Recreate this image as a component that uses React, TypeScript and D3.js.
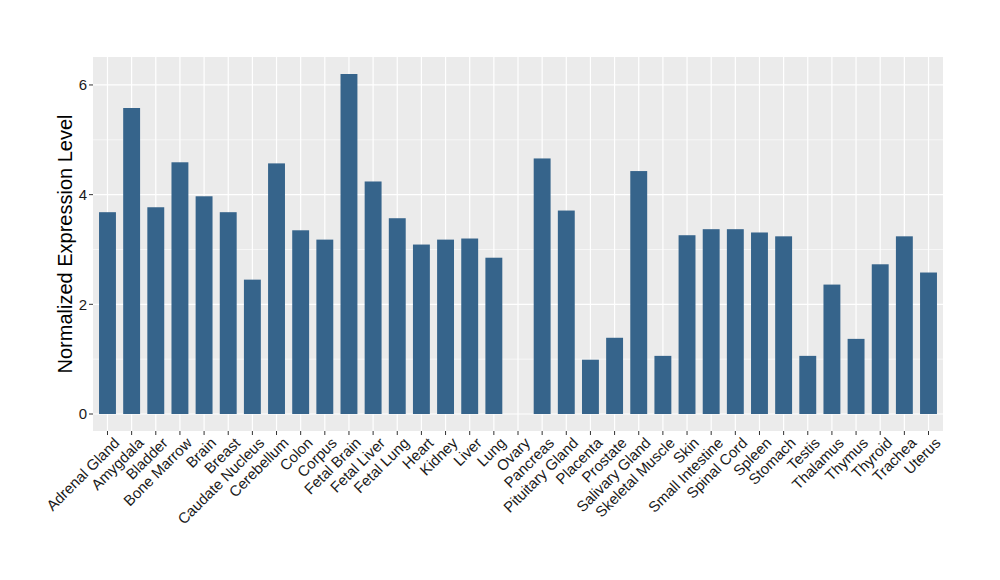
import React from "react";
import * as d3 from "d3";

const categories = [
  "Adrenal Gland", "Amygdala", "Bladder", "Bone Marrow", "Brain", "Breast",
  "Caudate Nucleus", "Cerebellum", "Colon", "Corpus", "Fetal Brain", "Fetal Liver",
  "Fetal Lung", "Heart", "Kidney", "Liver", "Lung", "Ovary", "Pancreas",
  "Pituitary Gland", "Placenta", "Prostate", "Salivary Gland", "Skeletal Muscle",
  "Skin", "Small Intestine", "Spinal Cord", "Spleen", "Stomach", "Testis",
  "Thalamus", "Thymus", "Thyroid", "Trachea", "Uterus",
];
const values = [
  3.68, 5.58, 3.77, 4.59, 3.97, 3.68,
  2.45, 4.57, 3.35, 3.18, 6.2, 4.24,
  3.57, 3.09, 3.18, 3.2, 2.85, 0, 4.66,
  3.71, 0.99, 1.39, 4.43, 1.06,
  3.26, 3.37, 3.37, 3.31, 3.24, 1.06,
  2.36, 1.37, 2.73, 3.24, 2.58,
];
const yTicks = [0, 2, 4, 6];
const yMinor = [1, 3, 5];

export default function App() {
  const W = 1000, H = 580;
  const left = 93, right = 943, top = 57, bottom = 431;
  const n = categories.length;
  const step = (right - left) / (n - 1 + 1.2);
  const x = d3.scalePoint<string>().domain(categories).range([left + 0.6 * step, right - 0.6 * step]);
  const maxV = d3.max(values) as number;
  const y = d3.scaleLinear().domain([-0.05 * maxV, maxV * 1.05]).range([bottom, top]);
  const bw = step * 0.7;
  const font = "'Liberation Sans', Arial, sans-serif";
  return (
    <svg width={W} height={H} style={{ position: "absolute", left: 0, top: 0 }}>
      <rect x={0} y={0} width={W} height={H} fill="#fff" />
      <rect x={left} y={top} width={right - left} height={bottom - top} fill="#EBEBEB" />
      {yMinor.map((t) => (
        <line key={"m" + t} x1={left} x2={right} y1={y(t)} y2={y(t)} stroke="#fff" strokeWidth={0.6} />
      ))}
      {yTicks.map((t) => (
        <line key={"g" + t} x1={left} x2={right} y1={y(t)} y2={y(t)} stroke="#fff" strokeWidth={1.2} />
      ))}
      {categories.map((c) => (
        <line key={"v" + c} x1={x(c)} x2={x(c)} y1={top} y2={bottom} stroke="#fff" strokeWidth={1.2} />
      ))}
      {categories.map((c, i) => (
        <rect key={"b" + c} x={(x(c) as number) - bw / 2} width={bw}
          y={y(Math.max(values[i], 0))} height={y(0) - y(Math.max(values[i], 0))} fill="#36648B" />
      ))}
      {yTicks.map((t) => (
        <g key={"t" + t}>
          <line x1={left - 4} x2={left} y1={y(t)} y2={y(t)} stroke="#333" strokeWidth={1} />
          <text x={left - 6} y={y(t)} dy="0.35em" textAnchor="end" fontSize={15} fontFamily={font} fill="#1a1a1a">{t}</text>
        </g>
      ))}
      {categories.map((c) => {
        const cx = x(c) as number;
        return (
          <g key={"x" + c}>
            <line x1={cx} x2={cx} y1={bottom} y2={bottom + 4} stroke="#333" strokeWidth={1} />
            <text transform={`translate(${cx + 5},${bottom + 5}) rotate(-45)`} textAnchor="end"
              dy="0.75em" fontSize={15} fontFamily={font} fill="#1a1a1a">{c}</text>
          </g>
        );
      })}
      <text transform={`translate(72,${(top + bottom) / 2}) rotate(-90)`} textAnchor="middle"
        fontSize={20} fontFamily={font} fill="#000">Normalized Expression Level</text>
    </svg>
  );
}
